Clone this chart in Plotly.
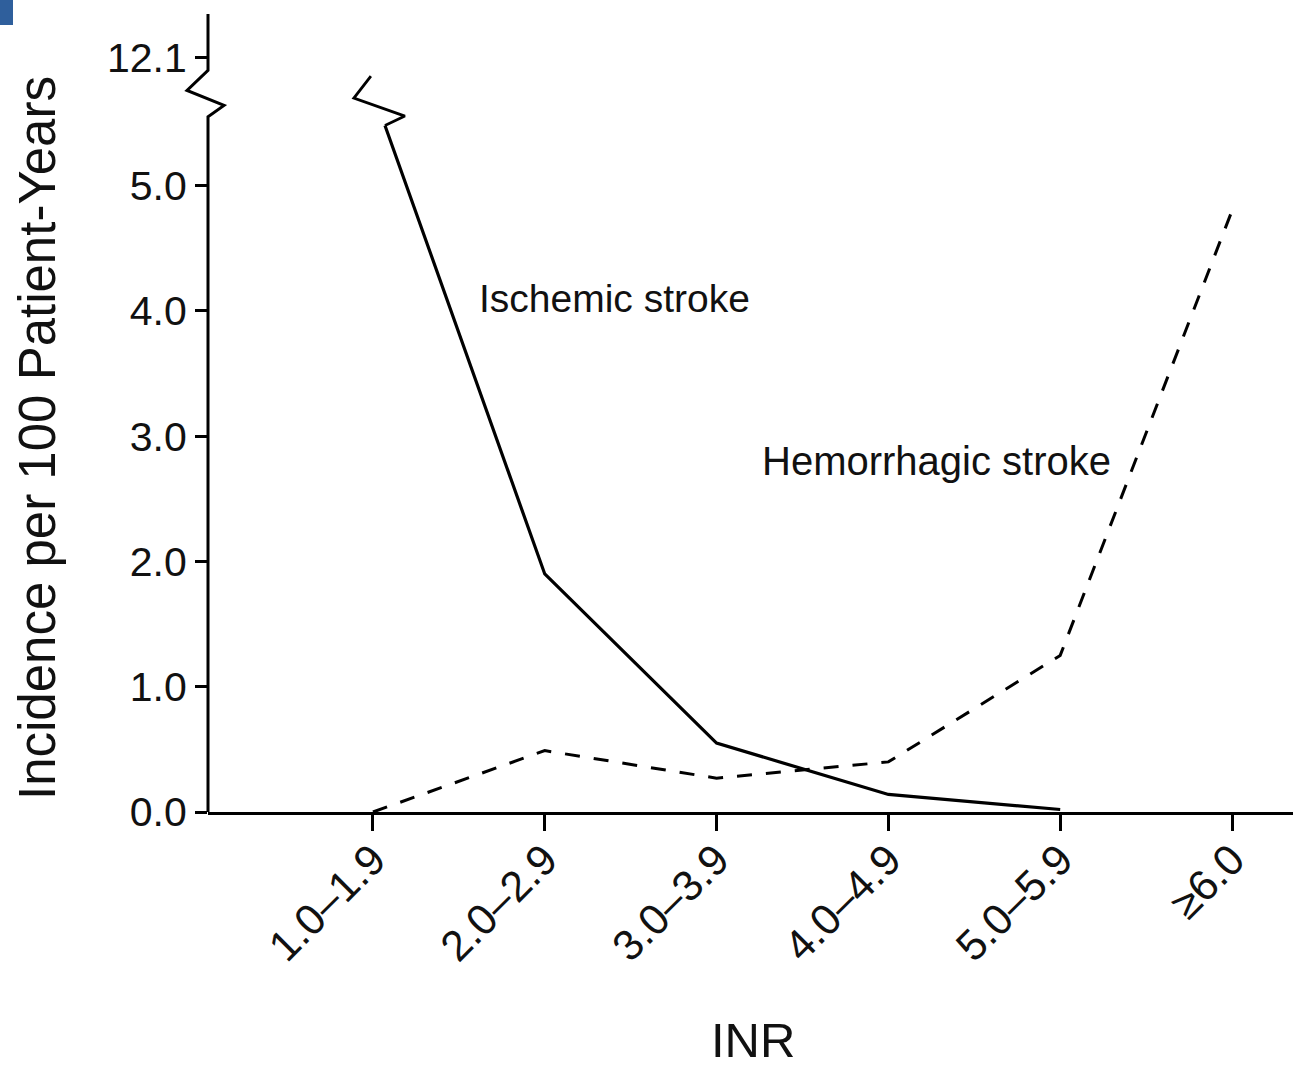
import plotly.graph_objects as go

# ---------------- data ----------------
inr_categories = ["1.0–1.9", "2.0–2.9", "3.0–3.9", "4.0–4.9", "5.0–5.9", "≥6.0"]
ischemic_values = [12.1, 1.9, 0.55, 0.14, 0.02]          # first five INR bands
hemorrhagic_values = [0.0, 0.49, 0.27, 0.40, 1.25, 4.8]   # all six INR bands
y_tick_values = [0.0, 1.0, 2.0, 3.0, 4.0, 5.0, 12.1]
y_tick_labels = ["0.0", "1.0", "2.0", "3.0", "4.0", "5.0", "12.1"]

# ---------------- broken-axis helpers (style) ----------------
LINEAR_MAX = 5.0          # linear scale up to this value
BREAK_LEVEL = 5.75        # where off-scale lines are cut by the break glyph
TOP_TICK_POS = 6.02       # display position of the off-scale tick
Y_TOP = 6.37

def disp_tick(v):
    return v if v <= LINEAR_MAX else TOP_TICK_POS

def disp_line(v):
    return v if v <= LINEAR_MAX else BREAK_LEVEL

x_pos = list(range(1, len(inr_categories) + 1))
FONT = "Liberation Sans, Arial, sans-serif"
TXT = "#111111"

fig = go.Figure()

# Ischemic stroke (solid) - first segment starts at the bottom of the break glyph
isc_x = x_pos[:len(ischemic_values)]
isc_y = [disp_line(v) for v in ischemic_values]
t = 0.07
start_x = isc_x[0] + t * (isc_x[1] - isc_x[0])
start_y = isc_y[0] + t * (isc_y[1] - isc_y[0])
fig.add_trace(go.Scatter(
    x=[start_x] + isc_x[1:], y=[start_y] + isc_y[1:],
    mode="lines", line=dict(color="black", width=3.2), showlegend=False,
    hoverinfo="skip"))

# break glyph on the ischemic line (relative to the off-scale point)
gdx = [-0.012, -0.111, 0.186, t]
gdy = [0.124, -0.052, -0.195, start_y - isc_y[0]]
fig.add_trace(go.Scatter(
    x=[isc_x[0] + d for d in gdx], y=[isc_y[0] + d for d in gdy],
    mode="lines", line=dict(color="black", width=2.8), showlegend=False,
    hoverinfo="skip"))

# Hemorrhagic stroke (dashed)
fig.add_trace(go.Scatter(
    x=x_pos, y=[disp_line(v) for v in hemorrhagic_values],
    mode="lines", line=dict(color="black", width=3, dash="15px,14px"),
    showlegend=False, hoverinfo="skip"))

# ---------------- y axis line with break ----------------
pw = 1293 - 208
path = (f"M 0,0 L 0,5.55 L {16/pw:.5f},5.64 L {-21/pw:.5f},5.76 "
        f"L 0,5.92 L 0,{Y_TOP}")
shapes = [
    dict(type="path", xref="paper", yref="y", path=path,
         line=dict(color="black", width=3)),
    # slide decoration in top-left corner
    dict(type="rect", xref="paper", yref="paper",
         x0=-208/pw, x1=(13-208)/pw, y0=(812-25)/798, y1=(812+14)/798,
         fillcolor="#2f5f9c", line=dict(width=0), layer="above"),
]

annotations = [
    dict(text="Ischemic stroke", x=1.605, y=4.10, xref="x", yref="y",
         xanchor="left", yanchor="middle", showarrow=False,
         font=dict(family=FONT, size=39, color=TXT)),
    dict(text="Hemorrhagic stroke", x=3.253, y=2.80, xref="x", yref="y",
         xanchor="left", yanchor="middle", showarrow=False,
         font=dict(family=FONT, size=40, color=TXT)),
    dict(text="INR", x=(753-208)/pw, y=(812-1040)/798, xref="paper",
         yref="paper", xanchor="center", yanchor="middle", showarrow=False,
         font=dict(family=FONT, size=49, color=TXT)),
    dict(text="Incidence per 100 Patient-Years", x=(37-208)/pw, y=(812-438)/798,
         xref="paper", yref="paper", xanchor="center", yanchor="middle",
         textangle=-90, showarrow=False,
         font=dict(family=FONT, size=51, color=TXT)),
]

fig.update_layout(
    width=1293, height=1070,
    margin=dict(l=208, r=0, t=14, b=258),
    paper_bgcolor="white", plot_bgcolor="white",
    showlegend=False,
    shapes=shapes, annotations=annotations,
    xaxis=dict(range=[0.04, 6.355], tickvals=x_pos, ticktext=inr_categories,
               tickangle=-45, ticks="outside", ticklen=16, tickwidth=3,
               tickcolor="black", showline=True, linecolor="black",
               linewidth=3, showgrid=False, zeroline=False,
               ticklabelstandoff=-14,
               tickfont=dict(family=FONT, size=43, color=TXT)),
    yaxis=dict(range=[0, Y_TOP], tickvals=[disp_tick(v) for v in y_tick_values],
               ticktext=y_tick_labels, ticks="outside", ticklen=12,
               tickwidth=3, tickcolor="black", showline=False,
               showgrid=False, zeroline=False,
               tickfont=dict(family=FONT, size=41, color=TXT)),
)

fig.write_html("out.html")
